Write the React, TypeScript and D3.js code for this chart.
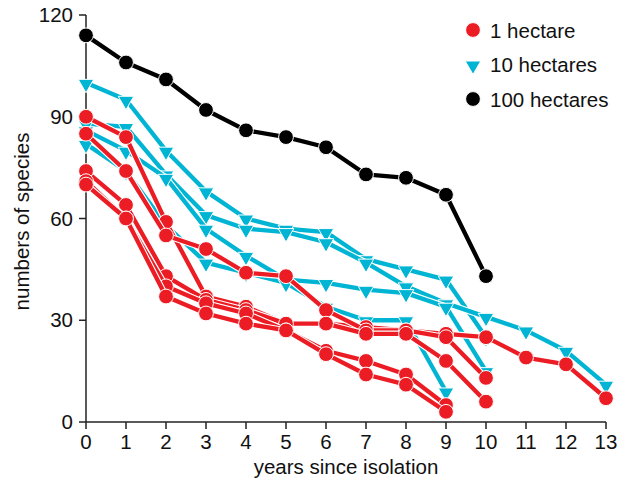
import React from "react";
import * as d3 from "d3";

const years = [0, 1, 2, 3, 4, 5, 6, 7, 8, 9, 10, 11, 12, 13];
const yTicks = [0, 30, 60, 90, 120];

// 1 hectare fragments
const red1 = [90, 84, 59, 37, 34, 29, 29, 28, 27, 26, 25, 19, 17, 7];
const red2 = [85, 74, 55, 51, 44, 43, 33, 27, 27, 25, 13];
const red3 = [74, 64, 43, 36, 33, 29, 29, 26, 26, 18, 6];
const red4 = [71, 60, 40, 35, 32, 27, 21, 18, 14, 5];
const red5 = [70, 60, 37, 32, 29, 27, 20, 14, 11, 3];

// 10 hectare fragments
const cyan1 = [100, 95, 80, 68, 60, 57, 56, 48, 45, 42, 25];
const cyan2 = [88, 87, 73, 61, 57, 56, 53, 47, 40, 35, 31, 27, 21, 11];
const cyan3 = [86, 80, 72, 57, 49, 42, 41, 39, 38, 34, 15];
const cyan4 = [82, 74, 58, 47, 44, 41, 34, 30, 30, 9];

// 100 hectare fragment
const black1 = [114, 106, 101, 92, 86, 84, 81, 73, 72, 67, 43];

const RED = "#ec1c24";
const CYAN = "#00b5d3";
const BLACK = "#000000";

const legendItems = [
  { label: "1 hectare", color: RED, shape: "circle" },
  { label: "10 hectares", color: CYAN, shape: "triangle" },
  { label: "100 hectares", color: BLACK, shape: "circle" },
];

const W = 630;
const H = 485;
const x = d3.scaleLinear().domain([0, 13]).range([86, 606]);
const y = d3.scaleLinear().domain([0, 120]).range([422, 15]);
const FONT = "'Liberation Sans', Arial, Helvetica, sans-serif";
const FS = 20.5;

const tri = d3.symbol().type(d3.symbolTriangle).size(105)() as string;

function Marker({ cx, cy, shape, color }: { cx: number; cy: number; shape: string; color: string }) {
  if (shape === "circle") {
    return <circle cx={cx} cy={cy} r={7.4} fill={color} stroke="#fff" strokeWidth={1} />;
  }
  return (
    <path d={tri} transform={`translate(${cx},${cy + 1}) rotate(180)`} fill={color} stroke="#fff" strokeWidth={1} />
  );
}

function Series({ values, color, shape }: { values: number[]; color: string; shape: string }) {
  const pts = values.map((v, i) => [years[i], v] as [number, number]);
  const line = d3
    .line<[number, number]>()
    .x((d) => x(d[0]))
    .y((d) => y(d[1]));
  return (
    <g>
      <path d={line(pts) as string} fill="none" stroke="#fff" strokeWidth={6.5} strokeLinejoin="round" />
      <path d={line(pts) as string} fill="none" stroke={color} strokeWidth={4.3} strokeLinejoin="round" />
      {pts.map((p, i) => (
        <Marker key={i} cx={x(p[0])} cy={y(p[1])} shape={shape} color={color} />
      ))}
    </g>
  );
}

export default function App() {
  const cyanSeries = [cyan1, cyan2, cyan3, cyan4];
  const redSeries = [red1, red2, red3, red4, red5];
  return (
    <svg width={W} height={H} style={{ position: "absolute", left: 0, top: 0, background: "#fff" }} fontFamily={FONT}>
      {/* axes */}
      <g stroke="#222" strokeWidth={1.5} fill="none">
        <line x1={x(0)} x2={x(0)} y1={y(120)} y2={y(0)} />
        <line x1={x(0)} x2={x(13)} y1={y(0)} y2={y(0)} />
        {yTicks.map((t) => (
          <line key={"yt" + t} x1={x(0) - 7} x2={x(0)} y1={y(t)} y2={y(t)} />
        ))}
        {years.map((t) => (
          <line key={"xt" + t} x1={x(t)} x2={x(t)} y1={y(0)} y2={y(0) + 7} />
        ))}
      </g>
      {yTicks.map((t) => (
        <text key={"yl" + t} x={x(0) - 13} y={y(t) + 7} textAnchor="end" fontSize={FS} fill="#111">
          {t}
        </text>
      ))}
      {years.map((t) => (
        <text key={"xl" + t} x={x(t)} y={y(0) + 27} textAnchor="middle" fontSize={FS} fill="#111">
          {t}
        </text>
      ))}
      <text x={(x(0) + x(13)) / 2} y={474} textAnchor="middle" fontSize={FS} fill="#111">
        years since isolation
      </text>
      <text transform={`translate(29, ${(y(0) + y(120)) / 2 + 3}) rotate(-90)`} textAnchor="middle" fontSize={FS} fill="#111">
        numbers of species
      </text>

      {/* data */}
      {cyanSeries.map((s, i) => (
        <Series key={"c" + i} values={s} color={CYAN} shape="triangle" />
      ))}
      {redSeries.map((s, i) => (
        <Series key={"r" + i} values={s} color={RED} shape="circle" />
      ))}
      <Series values={black1} color={BLACK} shape="circle" />

      {/* legend */}
      {legendItems.map((it, i) => (
        <g key={it.label} transform={`translate(473, ${30 + i * 34.5})`}>
          <Marker cx={0} cy={0} shape={it.shape} color={it.color} />
          <text x={17} y={7.5} fontSize={FS} fill="#111">
            {it.label}
          </text>
        </g>
      ))}
    </svg>
  );
}
